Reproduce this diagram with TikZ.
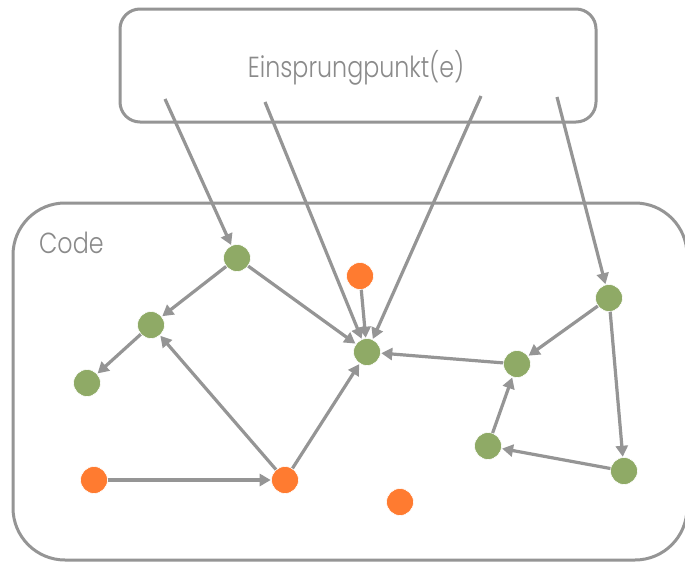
\documentclass[tikz,border=0pt]{standalone}
\usepackage{fontspec}
\setmainfont{Poppins}[UprightFont=* Light]
\usetikzlibrary{arrows.meta}
\definecolor{linegray}{HTML}{959595}
\definecolor{textgray}{HTML}{8A8A8A}
\definecolor{dotgreen}{HTML}{8FAA66}
\definecolor{dotorange}{HTML}{FF7B30}
\tikzset{
  boxframe/.style={draw=linegray, line width=3pt},
  gdot/.style={circle, fill=dotgreen, draw=white, line width=0.6pt, minimum size=27pt, inner sep=0pt},
  odot/.style={circle, fill=dotorange, draw=white, line width=0.6pt, minimum size=27pt, inner sep=0pt},
  conn/.style={draw=linegray, line width=3.2pt, -{Triangle[length=11pt,width=12pt]}, shorten >=0.5pt},
  lbl/.style={text=textgray, font=\fontsize{29}{32}\selectfont, inner sep=0pt, xscale=0.82}
}
\begin{document}
\begin{tikzpicture}[x=1pt,y=-1pt]
\useasboundingbox (0,0) rectangle (685,562);
\fill[white] (0,0) rectangle (685,562);
% boxes
\draw[boxframe, rounded corners=20pt] (120,9) rectangle (596,122);
\draw[boxframe, rounded corners=52pt] (13,203) rectangle (687,560);
\node[lbl] (title) at (356,68) {Einsprungpunkt(e)};
\node[lbl, anchor=west] (code) at (39,243) {Code};
% start coordinates
\coordinate (s1) at (165,99);
\coordinate (s2) at (265,102);
\coordinate (s3) at (481,96);
\coordinate (s4) at (557,97);
% nodes
\node[gdot] (A) at (237,258) {};
\node[gdot] (B) at (151,325) {};
\node[gdot] (C) at (87,383) {};
\node[odot] (D) at (360,276) {};
\node[gdot] (E) at (367,352) {};
\node[gdot] (F) at (517,364) {};
\node[gdot] (G) at (609,298) {};
\node[gdot] (H) at (488,446) {};
\node[gdot] (I) at (624,471) {};
\node[odot] (J) at (94,480) {};
\node[odot] (K) at (285,480) {};
\node[odot] (L) at (400,502) {};
% connectors
\draw[conn] (s1) -- (A);
\draw[conn] (s2) -- (E);
\draw[conn] (s3) -- (E);
\draw[conn] (s4) -- (G);
\draw[conn] (A) -- (B);
\draw[conn] (A) -- (E);
\draw[conn] (B) -- (C);
\draw[conn] (K) -- (B);
\draw[conn] (J) -- (K);
\draw[conn] (K) -- (E);
\draw[conn] (D) -- (E);
\draw[conn] (F) -- (E);
\draw[conn] (G) -- (F);
\draw[conn] (G) -- (I);
\draw[conn] (I) -- (H);
\draw[conn] (H) -- (F);
\end{tikzpicture}
\end{document}
